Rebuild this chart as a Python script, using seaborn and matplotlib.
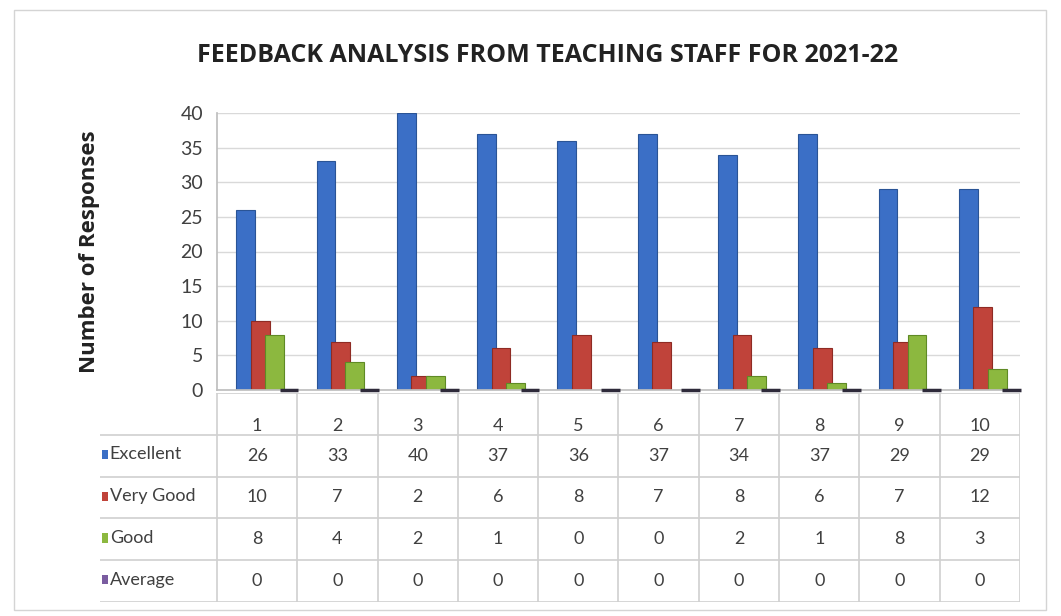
import numpy as np
import pandas as pd
import matplotlib.pyplot as plt
import seaborn as sns
from matplotlib.patches import Rectangle

questions = ["1", "2", "3", "4", "5", "6", "7", "8", "9", "10"]
excellent = [26, 33, 40, 37, 36, 37, 34, 37, 29, 29]
very_good = [10, 7, 2, 6, 8, 7, 8, 6, 7, 12]
good = [8, 4, 2, 1, 0, 0, 2, 1, 8, 3]
average = [0, 0, 0, 0, 0, 0, 0, 0, 0, 0]

series_names = ["Excellent", "Very Good", "Good", "Average"]
series_values = [excellent, very_good, good, average]
colors = {"Excellent": "#3b6fc6", "Very Good": "#c0433a",
          "Good": "#8cb83f", "Average": "#7a5ca0"}
edges = {"Excellent": "#2a5496", "Very Good": "#8e2b24",
         "Good": "#5f8a25", "Average": "#2e2a3a"}

rows = []
for name, vals in zip(series_names, series_values):
    for q, v in zip(questions, vals):
        rows.append({"Question": q, "Rating": name, "Responses": v})
df = pd.DataFrame(rows)

sns.set_theme(style="white")
plt.rcParams['font.family'] = ['Lato', 'DejaVu Sans']
text_col = "#404040"
bold_font = ['Open Sans', 'DejaVu Sans']

W, H = 1061, 616
fig = plt.figure(figsize=(W / 100, H / 100), dpi=100)

# outer chart border
fig.patches.append(Rectangle((14 / W, 1 - 610 / H), (1046 - 14) / W, (610 - 10) / H,
                             transform=fig.transFigure, fill=False,
                             edgecolor="#d4d4d4", linewidth=1.0))

x_left, x_right = 217, 1020
y_top, y_bot = 113, 390
ax = fig.add_axes([x_left / W, 1 - y_bot / H, (x_right - x_left) / W, (y_bot - y_top) / H])

sns.barplot(data=df, x="Question", y="Responses", hue="Rating",
            hue_order=series_names, order=questions, palette=colors,
            width=0.72, legend=False, ax=ax, saturation=1)

# color edges, widen bars so they overlap and nudge groups (3-D look)
n_q = len(questions)
for i, p in enumerate(ax.patches[:n_q * len(series_names)]):
    name = series_names[i // n_q]
    p.set_edgecolor(edges[name])
    w = p.get_width()
    p.set_x(p.get_x() + 0.1)
    p.set_width(w * 1.3)
    if name == "Average":
        p.set_linewidth(2.5)
        p.set_zorder(5)
        p.set_clip_on(False)
    else:
        p.set_linewidth(0.8)

ax.set_xlim(-0.5, n_q - 0.5)
ax.set_ylim(0, 40)
ax.set_yticks(np.arange(0, 41, 5))
ax.tick_params(axis="y", labelsize=14, labelcolor=text_col, pad=10, length=0)
ax.set_xticks([])
ax.set_xlabel("")
ax.set_ylabel("Number of Responses", fontsize=16, fontweight="bold",
              family=bold_font, color="#222222", labelpad=58)
ax.yaxis.grid(True, color="#d9d9d9", linewidth=1.0)
ax.set_axisbelow(True)
for side in ["top", "right"]:
    ax.spines[side].set_visible(False)
ax.spines["left"].set_color("#bfbfbf")
ax.spines["bottom"].set_color("#bfbfbf")

fig.text(548 / W, 1 - 55 / H, "FEEDBACK ANALYSIS FROM TEACHING STAFF FOR 2021-22",
         fontsize=18, fontweight="bold", family=bold_font, color="#222222",
         ha="center", va="center")

# data table below the plot
t_left, t_top, t_bot = 100, 393, 602
col_px = (x_right - x_left) / n_q
lab_w = (x_left - t_left) / col_px
tab = fig.add_axes([t_left / W, 1 - t_bot / H, (x_right - t_left) / W, (t_bot - t_top) / H])
tab.set_xlim(-0.5 - lab_w, n_q - 0.5)
tab.set_ylim(5, 0)
tab.axis("off")

line_kw = dict(color="#d0d0d0", linewidth=1.2)
tab.plot([-0.5, n_q - 0.5], [0, 0], **line_kw)
for r in range(1, 6):
    tab.plot([-0.5 - lab_w, n_q - 0.5], [r, r], **line_kw)
for c in range(n_q + 1):
    tab.plot([c - 0.5, c - 0.5], [0, 5], **line_kw)

for c, q in enumerate(questions):
    tab.text(c, 0.8, q, ha="center", va="center", fontsize=13, color=text_col)
for r, (name, vals) in enumerate(zip(series_names, series_values), start=1):
    tab.add_patch(Rectangle((-0.5 - lab_w + 0.03, r + 0.36), 0.07, 0.22,
                            facecolor=colors[name], edgecolor="none"))
    tab.text(-0.5 - lab_w + 0.12, r + 0.47, name, ha="left", va="center",
             fontsize=13, color=text_col)
    for c, v in enumerate(vals):
        tab.text(c, r + 0.5, str(v), ha="center", va="center",
                 fontsize=13, color=text_col)

fig.savefig("out.png", dpi=100)
